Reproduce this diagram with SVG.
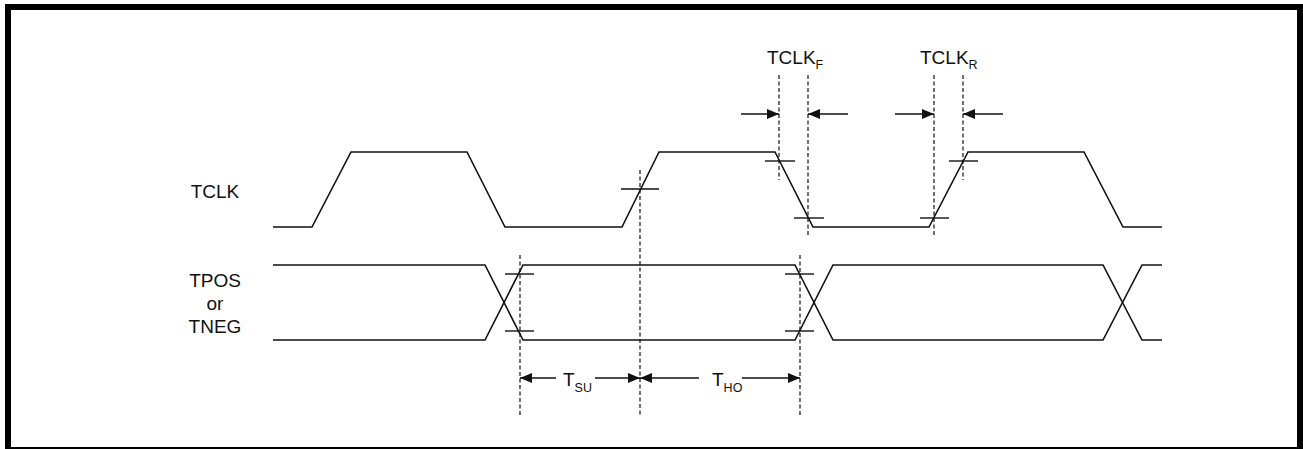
<svg xmlns="http://www.w3.org/2000/svg" width="1303" height="449" viewBox="0 0 1303 449">
<style>
.frame{fill:none;stroke:#000;stroke-width:6}
.wave{fill:none;stroke:#111;stroke-width:1.6;stroke-linejoin:miter}
.tick{fill:none;stroke:#111;stroke-width:1.4}
.dash{fill:none;stroke:#111;stroke-width:1.2;stroke-dasharray:4 2.5}
.arr{fill:none;stroke:#111;stroke-width:1.5;marker-end:url(#ah)}
text{font-family:"Liberation Sans",Arial,sans-serif;font-size:19px;fill:#111}
.sub{font-size:12.5px}
.lbl{text-anchor:middle}
</style>
<defs>
<marker id="ah" markerUnits="userSpaceOnUse" markerWidth="13" markerHeight="11" refX="12" refY="5" orient="auto" viewBox="0 0 13 10">
<path d="M0,0 L12,5 L0,10 z" fill="#111"/>
</marker>
</defs>
<rect class="frame" x="8" y="7" width="1292" height="443"/>
<g id="label-tclk"><text class="lbl" x="215" y="198">TCLK</text></g>
<g id="label-tpos"><text class="lbl" x="215" y="287">TPOS</text><text class="lbl" x="215" y="310">or</text><text class="lbl" x="215" y="333">TNEG</text></g>
<g id="tclk-wave">
<path class="wave" d="M273,227 L312,227 L351,152 L467,152 L505,227 L622,227 L659,152 L775,152 L813,227 L929,227 L968,152 L1084,152 L1123,227 L1162,227"/>
<line class="tick" x1="621" y1="189" x2="659" y2="189"/>
<line class="tick" x1="765" y1="161" x2="795" y2="161"/>
<line class="tick" x1="794" y1="218" x2="824" y2="218"/>
<line class="tick" x1="920" y1="218" x2="949" y2="218"/>
<line class="tick" x1="949" y1="161" x2="978" y2="161"/>
</g>
<g id="data-wave">
<path class="wave" d="M273,265 L485,265 L523,340 L795,340 L833,265 L1103,265 L1142,340 L1162,340"/>
<path class="wave" d="M273,340 L485,340 L523,265 L795,265 L833,340 L1103,340 L1142,265 L1162,265"/>
<line class="tick" x1="505" y1="274" x2="534" y2="274"/>
<line class="tick" x1="505" y1="331" x2="534" y2="331"/>
<line class="tick" x1="785" y1="274" x2="814" y2="274"/>
<line class="tick" x1="785" y1="331" x2="814" y2="331"/>
</g>
<g id="connectors">
<line class="dash" x1="520" y1="255" x2="520" y2="415"/>
<line class="dash" x1="800" y1="255" x2="800" y2="415"/>
<line class="dash" x1="640" y1="170" x2="640" y2="415"/>
<line class="dash" x1="779" y1="75" x2="779" y2="180"/>
<line class="dash" x1="808" y1="75" x2="808" y2="237"/>
<line class="dash" x1="934" y1="75" x2="934" y2="237"/>
<line class="dash" x1="963" y1="75" x2="963" y2="180"/>
<line class="arr" x1="741" y1="114" x2="779" y2="114"/>
<line class="arr" x1="848" y1="114" x2="808" y2="114"/>
<line class="arr" x1="895" y1="114" x2="934" y2="114"/>
<line class="arr" x1="1003" y1="114" x2="963" y2="114"/>
<line class="arr" x1="556" y1="378" x2="520" y2="378"/>
<line class="arr" x1="595" y1="378" x2="640" y2="378"/>
<line class="arr" x1="699" y1="378" x2="640" y2="378"/>
<line class="arr" x1="742" y1="378" x2="800" y2="378"/>
</g>
<g id="label-tclkf"><text x="767" y="64">TCLK<tspan class="sub" dy="5">F</tspan></text></g>
<g id="label-tclkr"><text x="920" y="64">TCLK<tspan class="sub" dy="5">R</tspan></text></g>
<g id="label-tsu"><text x="563" y="386">T<tspan class="sub" dy="6">SU</tspan></text></g>
<g id="label-tho"><text x="712" y="386">T<tspan class="sub" dy="6">HO</tspan></text></g>
</svg>
